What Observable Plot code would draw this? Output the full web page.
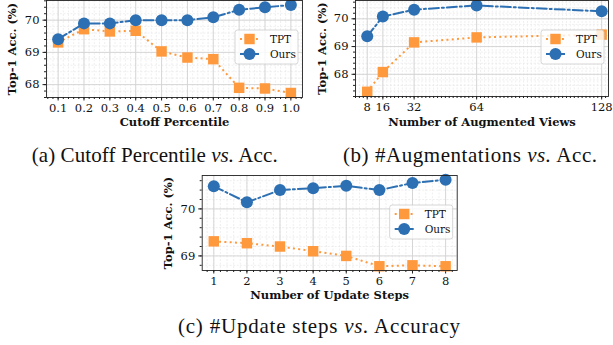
<!DOCTYPE html>
<html><head><meta charset="utf-8">
<script src="https://cdn.jsdelivr.net/npm/d3@7"></script>
<script src="https://cdn.jsdelivr.net/npm/@observablehq/plot@0.6"></script>
<style>
body{margin:0;background:#fff;}
#fig{position:relative;width:613px;height:345px;overflow:hidden;background:#fff;}
.panel{position:absolute;}
.panel svg{background:transparent !important;overflow:visible;}
#caps{position:absolute;left:0;top:0;}
</style></head><body><div id="fig"></div>
<script>
// ---- data ----
const seriesNames = ["TPT", "Ours"];
const yLabel = "Top-1 Acc. (%)";

const cutoff = [0.1, 0.2, 0.3, 0.4, 0.5, 0.6, 0.7, 0.8, 0.9, 1.0];
const cutoffTPT = [69.31, 69.72, 69.65, 69.67, 69.03, 68.84, 68.79, 67.90, 67.88, 67.74];
const cutoffOurs = [69.41, 69.90, 69.90, 70.00, 70.00, 70.00, 70.09, 70.32, 70.40, 70.47];

const views = [8, 16, 32, 64, 128];
const viewsTPT = [67.37, 68.08, 69.15, 69.33, 69.43];
const viewsOurs = [69.37, 70.08, 70.33, 70.48, 70.27];

const steps = [1, 2, 3, 4, 5, 6, 7, 8];
const stepsTPT = [69.31, 69.27, 69.20, 69.10, 69.00, 68.78, 68.80, 68.78];
const stepsOurs = [70.48, 70.14, 70.40, 70.44, 70.49, 70.40, 70.55, 70.62];

const cutoffTicks = cutoff;
const viewsTicks = views;
const stepsTicks = steps;

const captions = [
  ["(a) Cutoff Percentile ", "vs.", " Acc."],
  ["(b) #Augmentations ", "vs.", " Acc."],
  ["(c) #Update steps ", "vs.", " Accuracy"]
];

// ---- styling ----
const ORANGE = "#ff993e";
const BLUE = "#2c6fb2";
const FONT = "DejaVu Serif";

function range(a, b, s) { const out = []; for (let v = a; v <= b + 1e-9; v += s) out.push(+v.toFixed(6)); return out; }

function panel(cfg) {
  const tpt = cfg.x.map((x, i) => ({x, y: cfg.tpt[i]}));
  const ours = cfg.x.map((x, i) => ({x, y: cfg.ours[i]}));
  const plot = Plot.plot({
    width: cfg.width, height: cfg.height,
    marginLeft: cfg.mL, marginRight: cfg.mR, marginTop: cfg.mT, marginBottom: cfg.mB,
    x: {domain: cfg.xDomain},
    y: {domain: cfg.yDomain},
    style: {fontFamily: FONT, fontSize: "11.5px", background: "transparent", color: "#111"},
    marks: [
      Plot.gridX(cfg.xMinor, {stroke: "#e4e4e4", strokeOpacity: 1, strokeWidth: 0.6, strokeDasharray: "2,1.5"}),
      Plot.gridY(cfg.yMinor, {stroke: "#e4e4e4", strokeOpacity: 1, strokeWidth: 0.6, strokeDasharray: "2,1.5"}),
      Plot.gridX(cfg.xTicks, {stroke: "#d2d2d2", strokeOpacity: 1, strokeWidth: 0.9}),
      Plot.gridY(cfg.yTicks, {stroke: "#d2d2d2", strokeOpacity: 1, strokeWidth: 0.9}),
      Plot.axisX(cfg.xMinor, {tickSize: 2, tickFormat: () => "", label: null, stroke: "#222"}),
      Plot.axisX(cfg.xTicks, {tickSize: 3.5, tickPadding: 3, tickFormat: cfg.xFmt, label: null, stroke: "#222"}),
      Plot.axisY(cfg.yMinor, {tickSize: 2, tickFormat: () => "", label: null, stroke: "#222"}),
      Plot.axisY(cfg.yTicks, {tickSize: 3.5, tickPadding: 3.5, tickFormat: d3.format("d"), label: null, stroke: "#222"}),
      Plot.line(tpt, {x: "x", y: "y", stroke: ORANGE, strokeWidth: 2, strokeDasharray: "2,3.3", strokeLinecap: "butt"}),
      Plot.dot(tpt, {x: "x", y: "y", symbol: "square", r: 5.9, fill: ORANGE, stroke: "none"}),
      Plot.line(ours, {x: "x", y: "y", stroke: BLUE, strokeWidth: 2, strokeDasharray: "10,3,2,3"}),
      Plot.dot(ours, {x: "x", y: "y", symbol: "circle", r: 6, fill: BLUE, stroke: "none"}),
      Plot.frame({stroke: "#222", strokeWidth: 0.9}),
      Plot.text([cfg.xLabel], {frameAnchor: "bottom", textAnchor: "middle", dy: cfg.xLabelDy, fontWeight: "bold", fontSize: 11.5, fill: "#111"}),
      Plot.text([yLabel], {frameAnchor: "left", textAnchor: "middle", dx: cfg.yLabelDx, rotate: -90, fontWeight: "bold", fontSize: 11.5, fill: "#111"})
    ]
  });
  // legend
  const svg = d3.select(plot);
  const fr = cfg.width - cfg.mR;
  const lw = 63, lh = 34;
  const g = svg.append("g").attr("transform", `translate(${fr - 4 - lw},${cfg.mT + 30})`);
  g.append("rect").attr("width", lw).attr("height", lh).attr("rx", 2.5)
    .attr("fill", "#fff").attr("fill-opacity", 0.8).attr("stroke", "#cccccc").attr("stroke-width", 0.8);
  const sym = [d3.symbol(d3.symbolSquare, Math.PI * 5.9 * 5.9), d3.symbol(d3.symbolCircle, Math.PI * 36)];
  const cols = [ORANGE, BLUE];
  const dashes = ["2,3.3", "7,2,1.5,2"];
  seriesNames.forEach((name, i) => {
    const yy = 9 + 15 * i;
    g.append("line").attr("x1", 5).attr("x2", 24).attr("y1", yy).attr("y2", yy)
      .attr("stroke", cols[i]).attr("stroke-width", 2).attr("stroke-dasharray", dashes[i]);
    g.append("path").attr("d", sym[i]()).attr("transform", `translate(14.5,${yy})`).attr("fill", cols[i]);
    g.append("text").attr("x", 35).attr("y", yy).attr("dy", "0.35em").attr("text-anchor", "start")
      .attr("font-family", FONT).attr("font-size", 10.5).attr("fill", "#111").text(name);
  });
  const div = document.createElement("div");
  div.className = "panel";
  div.style.left = cfg.left + "px";
  div.style.top = cfg.top + "px";
  div.appendChild(plot);
  return div;
}

const fig = document.getElementById("fig");

fig.appendChild(panel({
  x: cutoff, tpt: cutoffTPT, ours: cutoffOurs,
  xTicks: cutoffTicks, xMinor: range(0.06, 1.04, 0.02), xFmt: d3.format(".1f"),
  yTicks: [68, 69, 70], yMinor: range(67.6, 70.6, 0.2),
  xDomain: [0.055, 1.045], yDomain: [67.6, 70.61],
  xLabel: "Cutoff Percentile", xLabelDy: 28, yLabelDx: -34,
  left: 0, top: 0, width: 310, height: 135, mL: 46, mR: 8, mT: 0, mB: 38
}));

fig.appendChild(panel({
  x: views, tpt: viewsTPT, ours: viewsOurs,
  xTicks: viewsTicks, xMinor: range(2, 130, 2), xFmt: d3.format("d"),
  yTicks: [68, 69, 70], yMinor: range(67.2, 70.6, 0.2),
  xDomain: [2, 131.5], yDomain: [67.2, 70.66],
  xLabel: "Number of Augmented Views", xLabelDy: 29, yLabelDx: -33,
  left: 300, top: 0, width: 313, height: 135, mL: 55, mR: 5, mT: 0, mB: 39
}));

fig.appendChild(panel({
  x: steps, tpt: stepsTPT, ours: stepsOurs,
  xTicks: stepsTicks, xMinor: range(0.8, 8.2, 0.2), xFmt: d3.format("d"),
  yTicks: [69, 70], yMinor: range(68.8, 70.6, 0.2),
  xDomain: [0.65, 8.35], yDomain: [68.69, 70.71],
  xLabel: "Number of Update Steps", xLabelDy: 28, yLabelDx: -34,
  left: 150, top: 170, width: 320, height: 140, mL: 51.7, mR: 13.3, mT: 5, mB: 40
}));

// captions
const capSvg = d3.select(fig).append("svg").attr("id", "caps").attr("width", 613).attr("height", 345);
const capPos = [[31.7, 162, 246], [343, 162, 254], [178, 332.7, 282]];
captions.forEach((c, i) => {
  const t = capSvg.append("text").attr("x", capPos[i][0]).attr("y", capPos[i][1])
    .attr("textLength", capPos[i][2]).attr("lengthAdjust", "spacing")
    .attr("font-family", "Liberation Serif").attr("font-size", 21).attr("fill", "#111");
  t.append("tspan").text(c[0]);
  t.append("tspan").attr("font-style", "italic").text(c[1]);
  t.append("tspan").text(c[2]);
});
</script>
</body></html>
